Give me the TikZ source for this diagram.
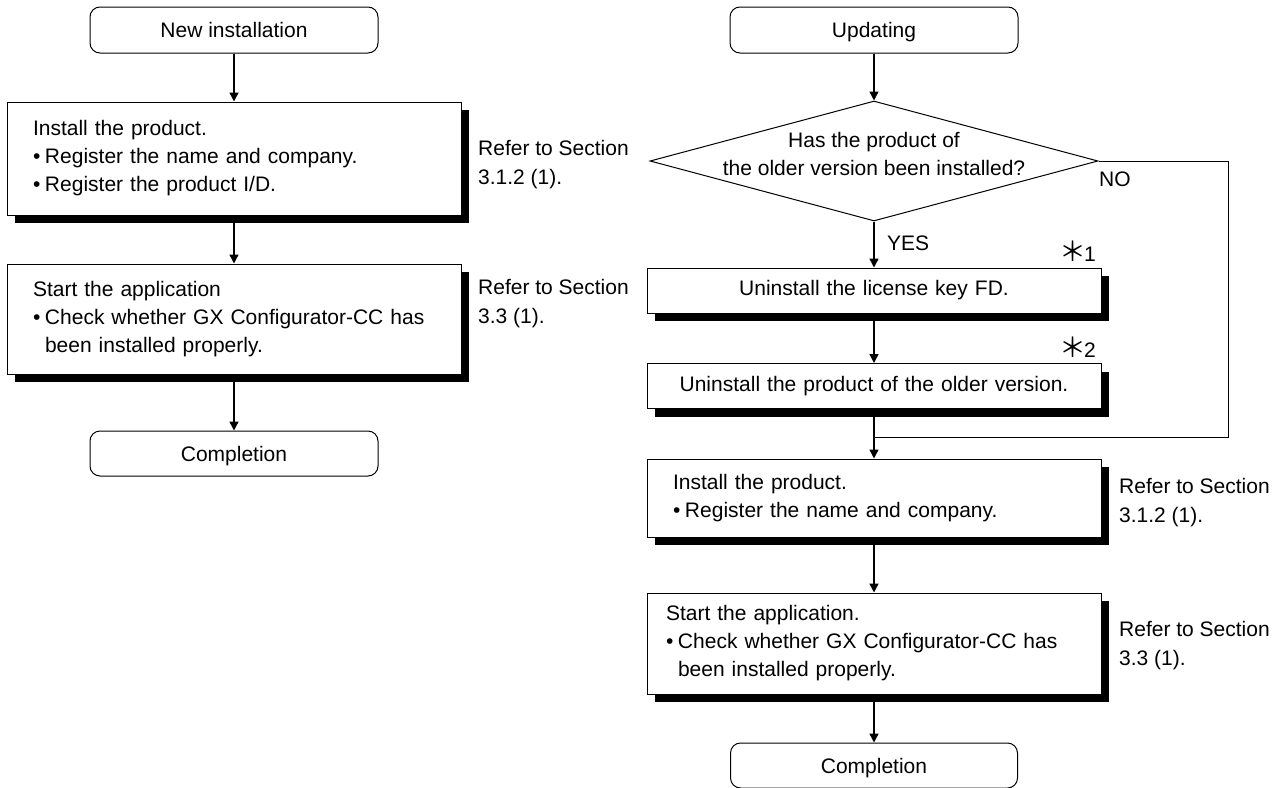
\documentclass[tikz,border=0pt]{standalone}
\usepackage{fontspec}
\setmainfont{Liberation Sans}
\newfontfamily\cjkfont{Noto Sans CJK JP}
\usetikzlibrary{arrows.meta,shapes.geometric,shadows}
\newcommand{\fcbul}{\makebox[12pt][l]{•}}
\newcommand{\fcast}{{\cjkfont\fontsize{27}{28}\selectfont ＊}}
\begin{document}
\begin{tikzpicture}[x=1pt,y=-1pt,
  every node/.style={font=\fontsize{21}{28}\selectfont, inner sep=0pt},
  term/.style={draw, line width=1pt, rounded corners=10pt, minimum width=288pt, minimum height=46pt,
    text height=15pt, text depth=0pt},
  proc/.style={draw, line width=1pt, fill=white, align=left,
    drop shadow={shadow xshift=8pt, shadow yshift=-8pt, fill=black, opacity=1}},
  reftext/.style={anchor=west, align=left, font=\fontsize{21}{29}\selectfont},
  flow/.style={line width=1.4pt, -{Triangle[length=9pt,width=9pt]}},
  thin/.style={line width=1pt}
  ]
\useasboundingbox (0,0) rectangle (1282,787);

% ---------- left column ----------
\node[term] (newinst) at (234,30) {New installation};
\node[proc, minimum height=113pt, text width=402pt, inner xsep=26pt] (boxA) at (234,158.5)
  {Install the product.\\ \fcbul Register the name and company.\\ \fcbul Register the product I/D.};
\node[proc, minimum height=110pt, text width=402pt, inner xsep=26pt] (boxB) at (234,319)
  {Start the application\\ \fcbul Check whether GX Configurator-CC has\\ \hspace*{12pt}been installed properly.};
\node[term, minimum height=45pt] (comp1) at (234,453.5) {Completion};
\node[reftext] (refA) at (478,165) {Refer to Section\\3.1.2 (1).};
\node[reftext] (refB) at (478,304) {Refer to Section\\3.3 (1).};

\draw[flow] (newinst.south) -- (boxA.north);
\draw[flow] (boxA.south) -- (boxB.north);
\draw[flow] (boxB.south) -- (comp1.north);

% ---------- right column ----------
\node[term] (upd) at (874,30) {Updating};
\node[draw, thin, diamond, minimum width=448pt, minimum height=120pt] (dec) at (874,161) {};
\node[align=center] (dectext) at (874,154) {Has the product of\\the older version been installed?};
\node[proc, minimum height=45pt, text width=454pt, align=center] (lic) at (874,290.5)
  {Uninstall the license key FD.};
\node[proc, minimum height=45pt, text width=454pt, align=center] (old) at (874,386)
  {Uninstall the product of the older version.};
\node[proc, minimum height=78pt, text width=402pt, inner xsep=26pt] (inst) at (874,498)
  {Install the product.\\ \fcbul Register the name and company.};
\node[proc, minimum height=101pt, text width=416pt, inner xsep=19pt] (start) at (874,643.5)
  {Start the application.\\ \fcbul Check whether GX Configurator-CC has\\ \hspace*{12pt}been installed properly.};
\node[term, minimum height=45pt, minimum width=287pt] (comp2) at (874,765.5) {Completion};
\node[reftext] (refC) at (1119,503) {Refer to Section\\3.1.2 (1).};
\node[reftext] (refD) at (1119,646) {Refer to Section\\3.3 (1).};

\node[anchor=west] (yes) at (887,243) {YES};
\node[anchor=west] (no) at (1099,179) {NO};
\node[anchor=base west] (s1) at (1059,261) {\fcast\kern-2pt 1};
\node[anchor=base west] (s2) at (1059,357) {\fcast\kern-2pt 2};

\coordinate (noc) at (1228,437);
\coordinate (join) at (874,437);

\draw[flow] (upd.south) -- (dec.north);
\draw[flow] (dec.south) -- (lic.north);
\draw[flow] (lic.south) -- (old.north);
\draw[thin] (dec.east) -| (noc) -- (join);
\draw[flow] (old.south) -- (inst.north);
\draw[flow] (inst.south) -- (start.north);
\draw[flow] (start.south) -- (comp2.north);
\end{tikzpicture}
\end{document}
